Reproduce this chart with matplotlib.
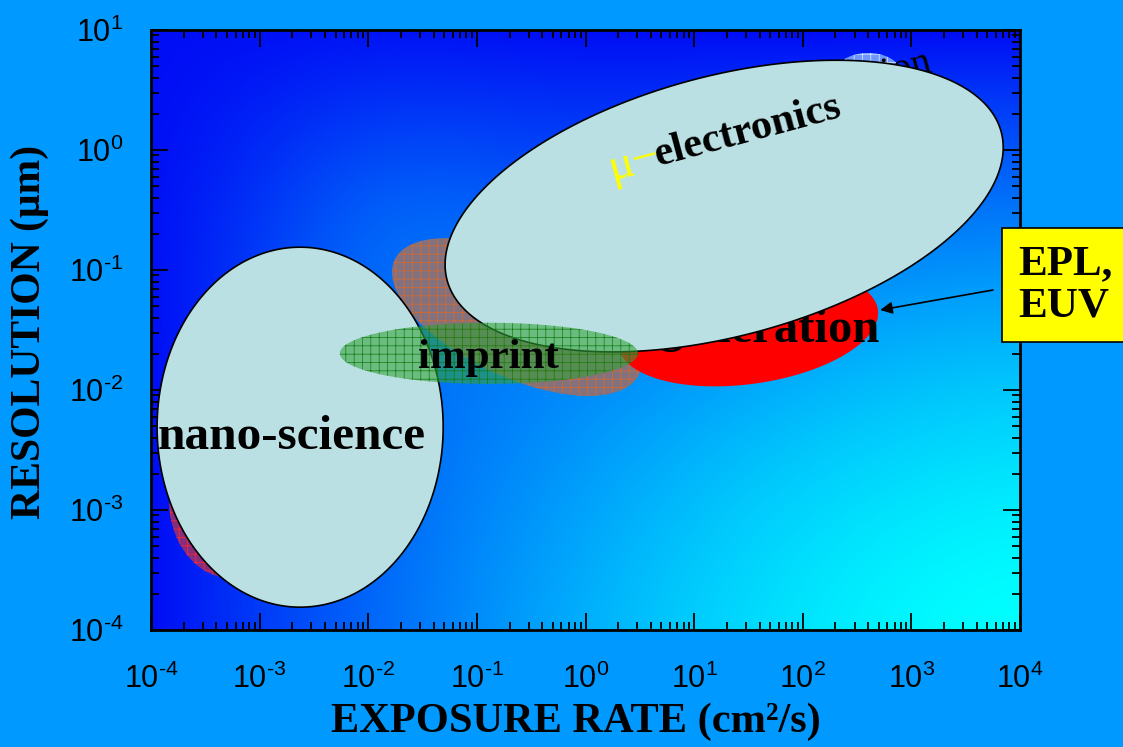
import numpy as np
import matplotlib.pyplot as plt
from matplotlib.patches import Polygon
from matplotlib.ticker import LogLocator, FuncFormatter, NullFormatter

plt.rcParams['font.family'] = 'Liberation Sans'
plt.rcParams['mathtext.fontset'] = 'custom'
plt.rcParams['mathtext.rm'] = 'Liberation Sans'
plt.rcParams['mathtext.it'] = 'Liberation Sans:italic'
plt.rcParams['mathtext.bf'] = 'Liberation Sans:bold'
plt.rcParams['hatch.linewidth'] = 0.5

SERIF = 'Liberation Serif'

# regions of the map, listed in drawing order
# centre exposure rate (cm2/s), centre resolution (um),
# half axes in decades (of resolution), tilt in degrees
region_names = ['e-beam', 'optical', 'generation', 'production',
                'u-electronics', 'nano-science', 'imprint']
region_rate = [5.46e-4, 0.234, 31.4, 400.0, 18.9, 2.36e-3, 0.129]
region_res = [1.21e-3, 0.0406, 0.0329, 4.47, 0.341, 4.9e-3, 0.0202]
region_half_a = [0.517, 1.125, 1.092, 0.267, 2.39, 1.192, 1.242]
region_half_b = [0.65, 0.5, 0.467, 0.158, 1.083, 1.5, 0.255]
region_tilt = [0, -25, 8, 0, 15, 0, 0]

x_ticks = [1e-4, 1e-3, 1e-2, 1e-1, 1e0, 1e1, 1e2, 1e3, 1e4]
y_ticks = [1e-4, 1e-3, 1e-2, 1e-1, 1e0, 1e1]

styles = {
    'e-beam': dict(facecolor='#8A2C7C', edgecolor='#FF2A2A', hatch='++', lw=0, zorder=1.1),
    'optical': dict(facecolor='#84717E', edgecolor='#D8692A', hatch='++', lw=0, zorder=1.2),
    'generation': dict(facecolor='#FF0000', edgecolor='none', lw=0, zorder=1.3),
    'production': dict(facecolor='#6E96FF', edgecolor='#E8F0FF', hatch='++', lw=0, zorder=1.4),
    'u-electronics': dict(facecolor='#BAE0E3', edgecolor='black', lw=1.2, zorder=1.6),
    'nano-science': dict(facecolor='#BAE0E3', edgecolor='black', lw=1.2, zorder=1.7),
    'imprint': dict(facecolor=(0.2, 0.64, 0.22, 0.58), edgecolor='#137A13', hatch='++', lw=0, zorder=1.8),
}

W, H = 1123, 747
fig = plt.figure(figsize=(W / 100, H / 100), dpi=100, facecolor='#0099FF')
pos = [151 / W, 1 - 630 / H, 869 / W, 600 / H]

# gradient background, deep blue top-left to cyan bottom-right
bg = fig.add_axes(pos, zorder=0)
u = np.linspace(0, 1, 435)[None, :]
v = np.linspace(0, 1, 300)[:, None]
gu = 1 - (1 - u) ** 1.6
gv = 1 - (1 - v) ** 1.6
glow = 0.16 * np.exp(-(((u - 0.27) * 869) ** 2 + ((v - 0.35) * 600) ** 2) / (2 * 110 ** 2))
f = np.clip(0.05 + 0.95 * gu * gv + glow, 0, 1)
img = np.zeros((300, 435, 3))
img[..., 1] = f
img[..., 2] = (245 + 10 * f) / 255
bg.imshow(img, extent=[0, 1, 0, 1], aspect='auto')
bg.axis('off')

ax = fig.add_axes(pos, zorder=1)
ax.set_facecolor('none')
ax.set_xscale('log')
ax.set_yscale('log')
ax.set_xlim(1e-4, 1e4)
ax.set_ylim(1e-4, 1e1)

# x decades per y decade on screen
xstretch = (8 / 869) / (5 / 600)


def ellipse_xy(rate, res, a, b, tilt, n=300):
    t = np.linspace(0, 2 * np.pi, n)
    p, q = a * np.cos(t), b * np.sin(t)
    c, s = np.cos(np.radians(tilt)), np.sin(np.radians(tilt))
    lx = np.log10(rate) + (p * c - q * s) * xstretch
    ly = np.log10(res) + (p * s + q * c)
    return np.column_stack([10 ** lx, 10 ** ly])


for i, name in enumerate(region_names):
    xy = ellipse_xy(region_rate[i], region_res[i], region_half_a[i],
                    region_half_b[i], region_tilt[i])
    ax.add_patch(Polygon(xy, closed=True, **styles[name]))

# labels
ax.text(1.95e-3, 3.23e-3, 'nano-science', family=SERIF, weight='bold',
        fontsize=35.5, ha='center', va='baseline', zorder=3)
ax.text(0.127, 0.01525, 'imprint', family=SERIF, weight='bold',
        fontsize=31, ha='center', va='baseline', zorder=3)
ax.text(516, 0.0251, 'generation', family=SERIF, weight='bold',
        fontsize=35, ha='right', va='baseline', zorder=1.5)
ax.text(1.62e3, 4.47, 'production', family=SERIF, fontsize=28, ha='right',
        va='baseline', rotation=15, rotation_mode='anchor', zorder=1.45)
ax.text(1.72, 0.56, 'μ−', family=SERIF, color='#FFFF00', fontsize=34,
        ha='left', va='baseline', rotation=15, rotation_mode='anchor', zorder=3)
ax.text(4.6, 0.74, 'electronics', family=SERIF, weight='bold', fontsize=30.5,
        ha='left', va='baseline', rotation=15, rotation_mode='anchor', zorder=3)

ax.annotate('', xy=(516, 0.0464), xycoords='data',
            xytext=(993 / W, 1 - 290 / H), textcoords='figure fraction',
            arrowprops=dict(arrowstyle='-|>', color='black', lw=1.2,
                            mutation_scale=18, shrinkA=0, shrinkB=0),
            annotation_clip=False, zorder=4)
fig.text(1018 / W, 1 - 285 / H, 'EPL,\nEUV', family=SERIF, weight='bold',
         fontsize=31, ha='left', va='center', linespacing=1.15,
         bbox=dict(boxstyle='square,pad=0.38', facecolor='#FFFF00',
                   edgecolor='black', lw=1.2))

# axes and ticks, exponent written with a plain hyphen like the original
fmt = FuncFormatter(lambda val, p: r'$\mathregular{10^{%s}}$'
                    % str(int(round(np.log10(val)))).replace('-', '\u2010'))
ax.xaxis.set_minor_locator(LogLocator(base=10, subs=np.arange(2, 10), numticks=100))
ax.yaxis.set_minor_locator(LogLocator(base=10, subs=np.arange(2, 10), numticks=100))
ax.set_xticks(x_ticks)
ax.set_yticks(y_ticks)
ax.xaxis.set_major_formatter(fmt)
ax.yaxis.set_major_formatter(fmt)
ax.xaxis.set_minor_formatter(NullFormatter())
ax.yaxis.set_minor_formatter(NullFormatter())
ax.set_xlim(1e-4, 1e4)
ax.set_ylim(1e-4, 1e1)
ax.tick_params(which='both', direction='in', top=True, right=True,
               width=1.3, color='black', labelsize=22)
ax.tick_params(which='major', length=12)
ax.tick_params(which='minor', length=6)
ax.tick_params(axis='x', pad=24)
ax.tick_params(axis='y', pad=20)
for sp in ax.spines.values():
    sp.set_linewidth(2)
    sp.set_zorder(5)

fig.text(30 / W, 1 - 332 / H, 'RESOLUTION (μm)', family=SERIF, weight='bold',
         fontsize=30, rotation=90, ha='center', va='center')
fig.text(576 / W, 1 - 722 / H, 'EXPOSURE RATE (cm²/s)', family=SERIF,
         weight='bold', fontsize=30.5, ha='center', va='center')

fig.savefig('out.png', dpi=100, facecolor=fig.get_facecolor())
